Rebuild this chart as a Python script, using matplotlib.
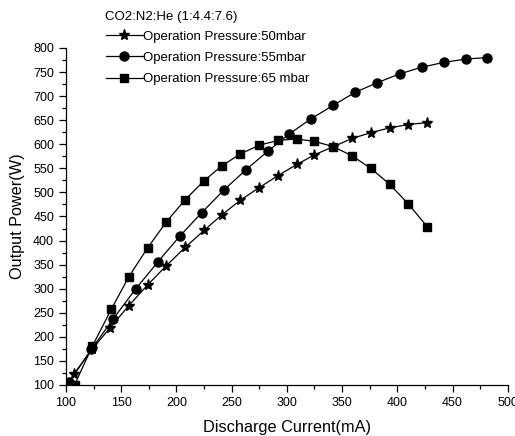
import matplotlib
matplotlib.use('Agg')
import matplotlib.pyplot as plt
from matplotlib.ticker import MultipleLocator

plt.rcParams['font.family'] = ['Liberation Sans', 'DejaVu Sans']

# discharge current (mA) and output power (W) per pressure
x50 = [107, 124, 140, 157, 174, 191, 208, 225, 241, 258, 275, 292, 309, 325, 342, 359, 376, 393, 410, 427]
y50 = [122, 175, 219, 265, 308, 348, 386, 421, 453, 484, 510, 535, 558, 578, 595, 612, 624, 634, 641, 645]
x55 = [103, 123, 143, 163, 183, 203, 223, 243, 263, 283, 302, 322, 342, 362, 382, 402, 422, 442, 462, 481]
y55 = [106, 174, 238, 299, 355, 409, 458, 505, 547, 586, 621, 653, 681, 708, 728, 746, 760, 770, 777, 780]
x65 = [108, 124, 141, 157, 174, 191, 208, 225, 241, 258, 275, 292, 309, 325, 342, 359, 376, 393, 410, 427]
y65 = [101, 181, 257, 325, 385, 439, 485, 524, 555, 580, 598, 608, 611, 606, 595, 576, 550, 517, 476, 429]
labels = ['Operation Pressure:50mbar', 'Operation Pressure:55mbar', 'Operation Pressure:65 mbar']

fig = plt.figure(figsize=(5.15, 4.36), dpi=100)
ax = fig.add_axes([0.128, 0.117, 0.858, 0.773])

ax.plot(x50, y50, '-*', color='black', lw=0.9, ms=8, label=labels[0])
ax.plot(x55, y55, '-o', color='black', lw=0.9, ms=6.5, label=labels[1])
ax.plot(x65, y65, '-s', color='black', lw=0.9, ms=5.5, label=labels[2])

ax.set_xlim(100, 500)
ax.set_ylim(100, 800)
ax.xaxis.set_major_locator(MultipleLocator(50))
ax.xaxis.set_minor_locator(MultipleLocator(25))
ax.yaxis.set_major_locator(MultipleLocator(50))
ax.yaxis.set_minor_locator(MultipleLocator(25))
ax.tick_params(which='major', direction='out', length=5, width=0.9, labelsize=9)
ax.tick_params(which='minor', direction='out', length=3, width=0.9)
for s in ['top', 'right']:
    ax.spines[s].set_visible(False)
for s in ['left', 'bottom']:
    ax.spines[s].set_linewidth(0.9)

ax.set_xlabel('Discharge Current(mA)', fontsize=11.7, labelpad=8)
ax.set_ylabel('Output Power(W)', fontsize=11.7, labelpad=6)

fig.text(105 / 515, 1 - 17 / 436, 'CO2:N2:He (1:4.4:7.6)', fontsize=9.5, ha='left', va='center')
leg = ax.legend(loc='upper left', bbox_to_anchor=(0.075, 1.072), frameon=False, fontsize=9.5,
                handlelength=2.8, handletextpad=0.05, labelspacing=0.7, borderpad=0)

plt.savefig('out.png', dpi=100)
